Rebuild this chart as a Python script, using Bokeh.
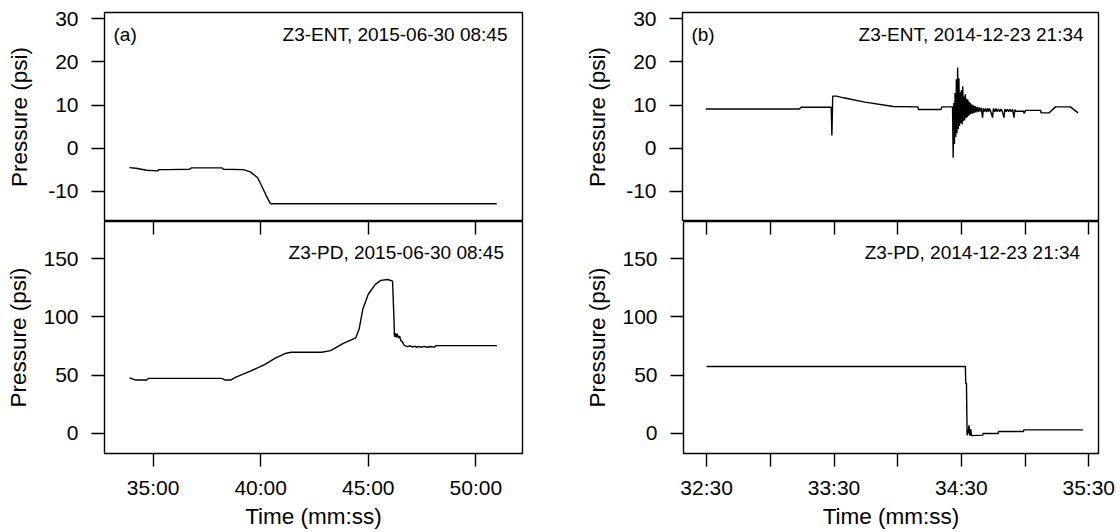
from bokeh.plotting import figure
from bokeh.models import Range1d, FixedTicker, LinearAxis, Label
from bokeh.layouts import column, row
from bokeh.embed import file_html
from bokeh.resources import INLINE

# ---------------- data ----------------
# (a) 2015-06-30 08:45, time in minutes of the hour
ent_a_min = [33.90, 34.20, 34.70, 35.20, 35.28, 35.70, 36.69, 36.78, 38.19, 38.27,
             39.19, 39.52, 39.85, 40.01, 40.26, 40.46, 50.97]
ent_a_psi = [-4.47, -4.62, -5.08, -5.23, -4.93, -4.93, -4.85, -4.54, -4.54, -4.85,
             -4.93, -5.46, -6.77, -8.31, -11.0, -12.85, -12.85]

pd_a_min = [33.90, 34.20, 34.70, 34.78, 38.19, 38.35, 38.60, 38.85, 39.52, 40.18,
            40.68, 41.18, 41.43, 42.84, 43.25, 43.84, 44.42, 44.58, 44.75, 45.00,
            45.33, 45.58, 45.91, 46.13, 46.19, 46.22, 46.26, 46.30, 46.35, 46.40,
            46.46, 46.52, 46.58, 46.64, 46.69, 46.83, 46.95, 47.05, 47.16, 47.25,
            47.32, 47.45, 47.60, 47.75, 47.90, 48.07, 48.16, 50.98]
pd_a_psi = [47.6, 45.7, 45.7, 47.1, 47.1, 45.7, 45.7, 48.2, 53.3, 58.9,
            64.6, 68.8, 69.6, 69.6, 71.0, 77.2, 82.0, 89.9, 106.9, 119.5,
            128.0, 131.4, 132.2, 130.8, 101.2, 82.9, 86.0, 82.5, 85.5, 81.8,
            83.5, 79.5, 78.7, 76.5, 75.3, 74.4, 75.2, 74.0, 74.9, 73.8,
            74.6, 73.9, 74.7, 73.9, 74.6, 74.0, 75.3, 75.3]

# (b) 2014-12-23 21:34, time in seconds after 32:30
ent_b_sec = [0.0, 44.0, 44.8, 59.0, 59.3, 59.7, 61.5, 64.8, 74.8, 88.2,
             99.7, 100.0, 110.6, 111.0, 116.0,
             116.3, 116.6, 116.9, 117.2, 117.5, 117.8, 118.1, 118.4, 118.7, 119.0,
             119.3, 119.6, 119.9, 120.2, 120.5, 120.8, 121.1, 121.4, 121.7, 122.0,
             122.3, 122.6, 122.9, 123.2, 123.5, 123.8, 124.1, 124.4, 124.7, 125.0,
             125.4, 125.8, 126.2, 126.6, 127.0, 127.5, 128.0, 128.5, 129.0, 129.5,
             130.1, 130.5, 131.0, 131.5, 132.0, 132.5, 133.0, 133.5, 134.0, 134.8,
             135.2, 135.8, 136.4, 137.0, 137.6, 138.2, 138.8, 139.4, 140.2, 140.6,
             141.2, 141.8, 142.4, 143.0, 143.6, 144.2, 144.9, 145.3, 145.7,
             149.4, 149.6, 150.4, 157.4, 157.6, 161.3, 164.4, 171.4, 175.0]
ent_b_psi = [9.1, 9.1, 9.5, 9.5, 3.0, 12.1, 12.1, 11.7, 10.7, 9.7,
             9.6, 9.0, 9.0, 9.6, 9.6,
             -2.2, 10.5, 1.0, 12.8, 2.6, 16.0, 3.5, 18.7, 4.5, 16.2,
             5.2, 13.0, 5.8, 13.5, 5.6, 14.4, 6.3, 12.0, 6.5, 12.5,
             7.0, 11.5, 7.2, 11.3, 7.5, 10.8, 7.8, 10.5, 8.0, 10.2,
             8.0, 10.0, 8.2, 9.8, 8.3, 9.6, 8.4, 9.5, 8.5, 9.4,
             7.1, 9.3, 8.5, 9.2, 8.4, 9.3, 8.5, 9.2, 8.4, 7.1,
             9.2, 8.5, 9.2, 8.5, 9.1, 8.5, 9.1, 8.5, 7.1, 9.1,
             8.5, 9.0, 8.5, 9.0, 8.5, 9.0, 7.1, 9.0, 8.6,
             8.6, 8.1, 8.8, 8.8, 8.2, 8.2, 9.6, 9.6, 8.2]

pd_b_sec = [0.0, 121.9, 122.05, 122.4, 122.7, 123.2, 123.6, 124.0, 124.4, 124.8,
            130.1, 130.2, 137.4, 137.5, 149.3, 149.4, 177.3]
pd_b_psi = [57.3, 57.3, 42.8, 42.8, -1.7, 0.5, 6.8, -2.1, 3.5, -2.1,
            -1.7, -0.3, -0.3, 1.4, 1.4, 2.8, 2.8]

b_start_sec = 1950  # 32:30 in seconds of the hour

left_ticks = [2100, 2400, 2700, 3000]
left_tick_labels = ["35:00", "40:00", "45:00", "50:00"]
right_ticks = [1950, 1980, 2010, 2040, 2070, 2100, 2130]
right_tick_labels = ["32:30", "", "33:30", "", "34:30", "", "35:30"]
ent_yticks = [-10, 0, 10, 20, 30]
ent_ytick_labels = ["-10", "0", "10", "20", "30"]
pd_yticks = [0, 50, 100, 150]
pd_ytick_labels = ["0", "50", "100", "150"]

panel_tags = ["(a)", "(b)"]
ent_titles = ["Z3-ENT, 2015-06-30 08:45", "Z3-ENT, 2014-12-23 21:34"]
pd_titles = ["Z3-PD, 2015-06-30 08:45", "Z3-PD, 2014-12-23 21:34"]
y_title = "Pressure (psi)"
x_title = "Time (mm:ss)"

# ---------------- layout constants ----------------
FONT = "Liberation Sans"
TICK_FS = "21px"
TITLE_FS = "22.5px"
NOTE_FS = "19px"
FW, FH_TOP, FH_BOT = 418, 209, 236
TOP_MBT = 12
BOT_MBB = 74
LEFT_MBL, RIGHT_MBL = 104, 98
LEFT_W, RIGHT_W = 582, 537
left_xr = (1964.4, 3130.2)
right_xr = (1939.1, 2134.6)
ent_yr = (-16.95, 31.46)
pd_yr = (-17.5, 182.1)

LINE_W = 1.4
FRAME_W = 1.4


def fx(xr, px):
    return xr[0] + (xr[1] - xr[0]) * px / FW


def fy(yr, fh, py):
    return yr[1] - (yr[1] - yr[0]) * py / fh


def style_y(p, ticks, labels, label_standoff):
    ax = p.yaxis[0]
    ax.ticker = FixedTicker(ticks=ticks)
    ax.major_label_overrides = dict(zip(ticks, labels))
    ax.axis_line_color = None
    ax.minor_tick_line_color = None
    ax.major_tick_out = 13
    ax.major_tick_in = 0
    ax.major_tick_line_width = FRAME_W
    ax.major_tick_line_color = "black"
    ax.major_label_standoff = 13
    ax.major_label_text_font = FONT
    ax.major_label_text_font_size = TICK_FS
    ax.major_label_text_color = "black"
    ax.axis_label = y_title
    ax.axis_label_text_font = FONT
    ax.axis_label_text_font_size = TITLE_FS
    ax.axis_label_text_font_style = "normal"
    ax.axis_label_text_color = "black"
    ax.axis_label_standoff = label_standoff


def base_fig(width, height, xr, yr, mbl, mbr, mbt, mbb, top):
    p = figure(width=width, height=height,
               x_range=Range1d(*xr), y_range=Range1d(*yr),
               output_backend="svg", toolbar_location=None,
               x_axis_location=None if top else "below",
               min_border_left=mbl, min_border_right=mbr,
               min_border_top=mbt, min_border_bottom=mbb)
    p.grid.visible = False
    p.outline_line_color = "black"
    p.outline_line_width = FRAME_W
    p.background_fill_color = "white"
    p.border_fill_color = "white"
    return p


def add_text(p, x, y, txt, align):
    p.add_layout(Label(x=x, y=y, text=txt, text_align=align, text_baseline="middle",
                       text_font=FONT, text_font_size=NOTE_FS, text_color="black"))


def top_panel(width, mbl, xr, t_sec, psi, tag, title):
    mbr = width - mbl - FW
    p = base_fig(width, TOP_MBT + FH_TOP, xr, ent_yr, mbl, mbr, TOP_MBT, 0, True)
    style_y(p, ent_yticks, ent_ytick_labels, 13)
    p.line(t_sec, psi, line_color="black", line_width=LINE_W)
    add_text(p, fx(xr, 9), fy(ent_yr, FH_TOP, 22), tag, "left")
    add_text(p, fx(xr, FW - 15), fy(ent_yr, FH_TOP, 22), title, "right")
    return p


def bottom_panel(width, mbl, xr, t_sec, psi, title, ticks, tick_labels):
    mbr = width - mbl - FW
    p = base_fig(width, FH_BOT + BOT_MBB, xr, pd_yr, mbl, mbr, 0, BOT_MBB, False)
    style_y(p, pd_yticks, pd_ytick_labels, 9)
    ax = p.xaxis[0]
    ax.ticker = FixedTicker(ticks=ticks)
    ax.major_label_overrides = dict(zip(ticks, tick_labels))
    ax.axis_line_color = None
    ax.minor_tick_line_color = None
    ax.major_tick_out = 13
    ax.major_tick_in = 0
    ax.major_tick_line_width = FRAME_W
    ax.major_tick_line_color = "black"
    ax.major_label_standoff = 9
    ax.major_label_text_font = FONT
    ax.major_label_text_font_size = TICK_FS
    ax.major_label_text_color = "black"
    ax.axis_label = x_title
    ax.axis_label_text_font = FONT
    ax.axis_label_text_font_size = TITLE_FS
    ax.axis_label_text_font_style = "normal"
    ax.axis_label_text_color = "black"
    ax.axis_label_standoff = 2
    # ticks of the upper panel, hanging down from the shared border
    up = LinearAxis(ticker=FixedTicker(ticks=ticks),
                    major_label_overrides={t: "" for t in ticks},
                    major_label_text_font_size="0px",
                    major_label_standoff=0,
                    major_tick_in=13, major_tick_out=0,
                    major_tick_line_width=FRAME_W, major_tick_line_color="black",
                    minor_tick_line_color=None, axis_line_color=None)
    p.add_layout(up, "above")
    p.line(t_sec, psi, line_color="black", line_width=LINE_W)
    add_text(p, fx(xr, FW - 18.5), fy(pd_yr, FH_BOT, 32), title, "right")
    return p


ent_a_sec = [m * 60 for m in ent_a_min]
pd_a_sec = [m * 60 for m in pd_a_min]
ent_b_abs = [b_start_sec + s for s in ent_b_sec]
pd_b_abs = [b_start_sec + s for s in pd_b_sec]

tl = top_panel(LEFT_W, LEFT_MBL, left_xr, ent_a_sec, ent_a_psi, panel_tags[0], ent_titles[0])
tr = top_panel(RIGHT_W, RIGHT_MBL, right_xr, ent_b_abs, ent_b_psi, panel_tags[1], ent_titles[1])
bl = bottom_panel(LEFT_W, LEFT_MBL, left_xr, pd_a_sec, pd_a_psi, pd_titles[0],
                  left_ticks, left_tick_labels)
br = bottom_panel(RIGHT_W, RIGHT_MBL, right_xr, pd_b_abs, pd_b_psi, pd_titles[1],
                  right_ticks, right_tick_labels)

layout = column(row(tl, tr), row(bl, br))

open("out.html", "w").write(file_html(layout, INLINE))
